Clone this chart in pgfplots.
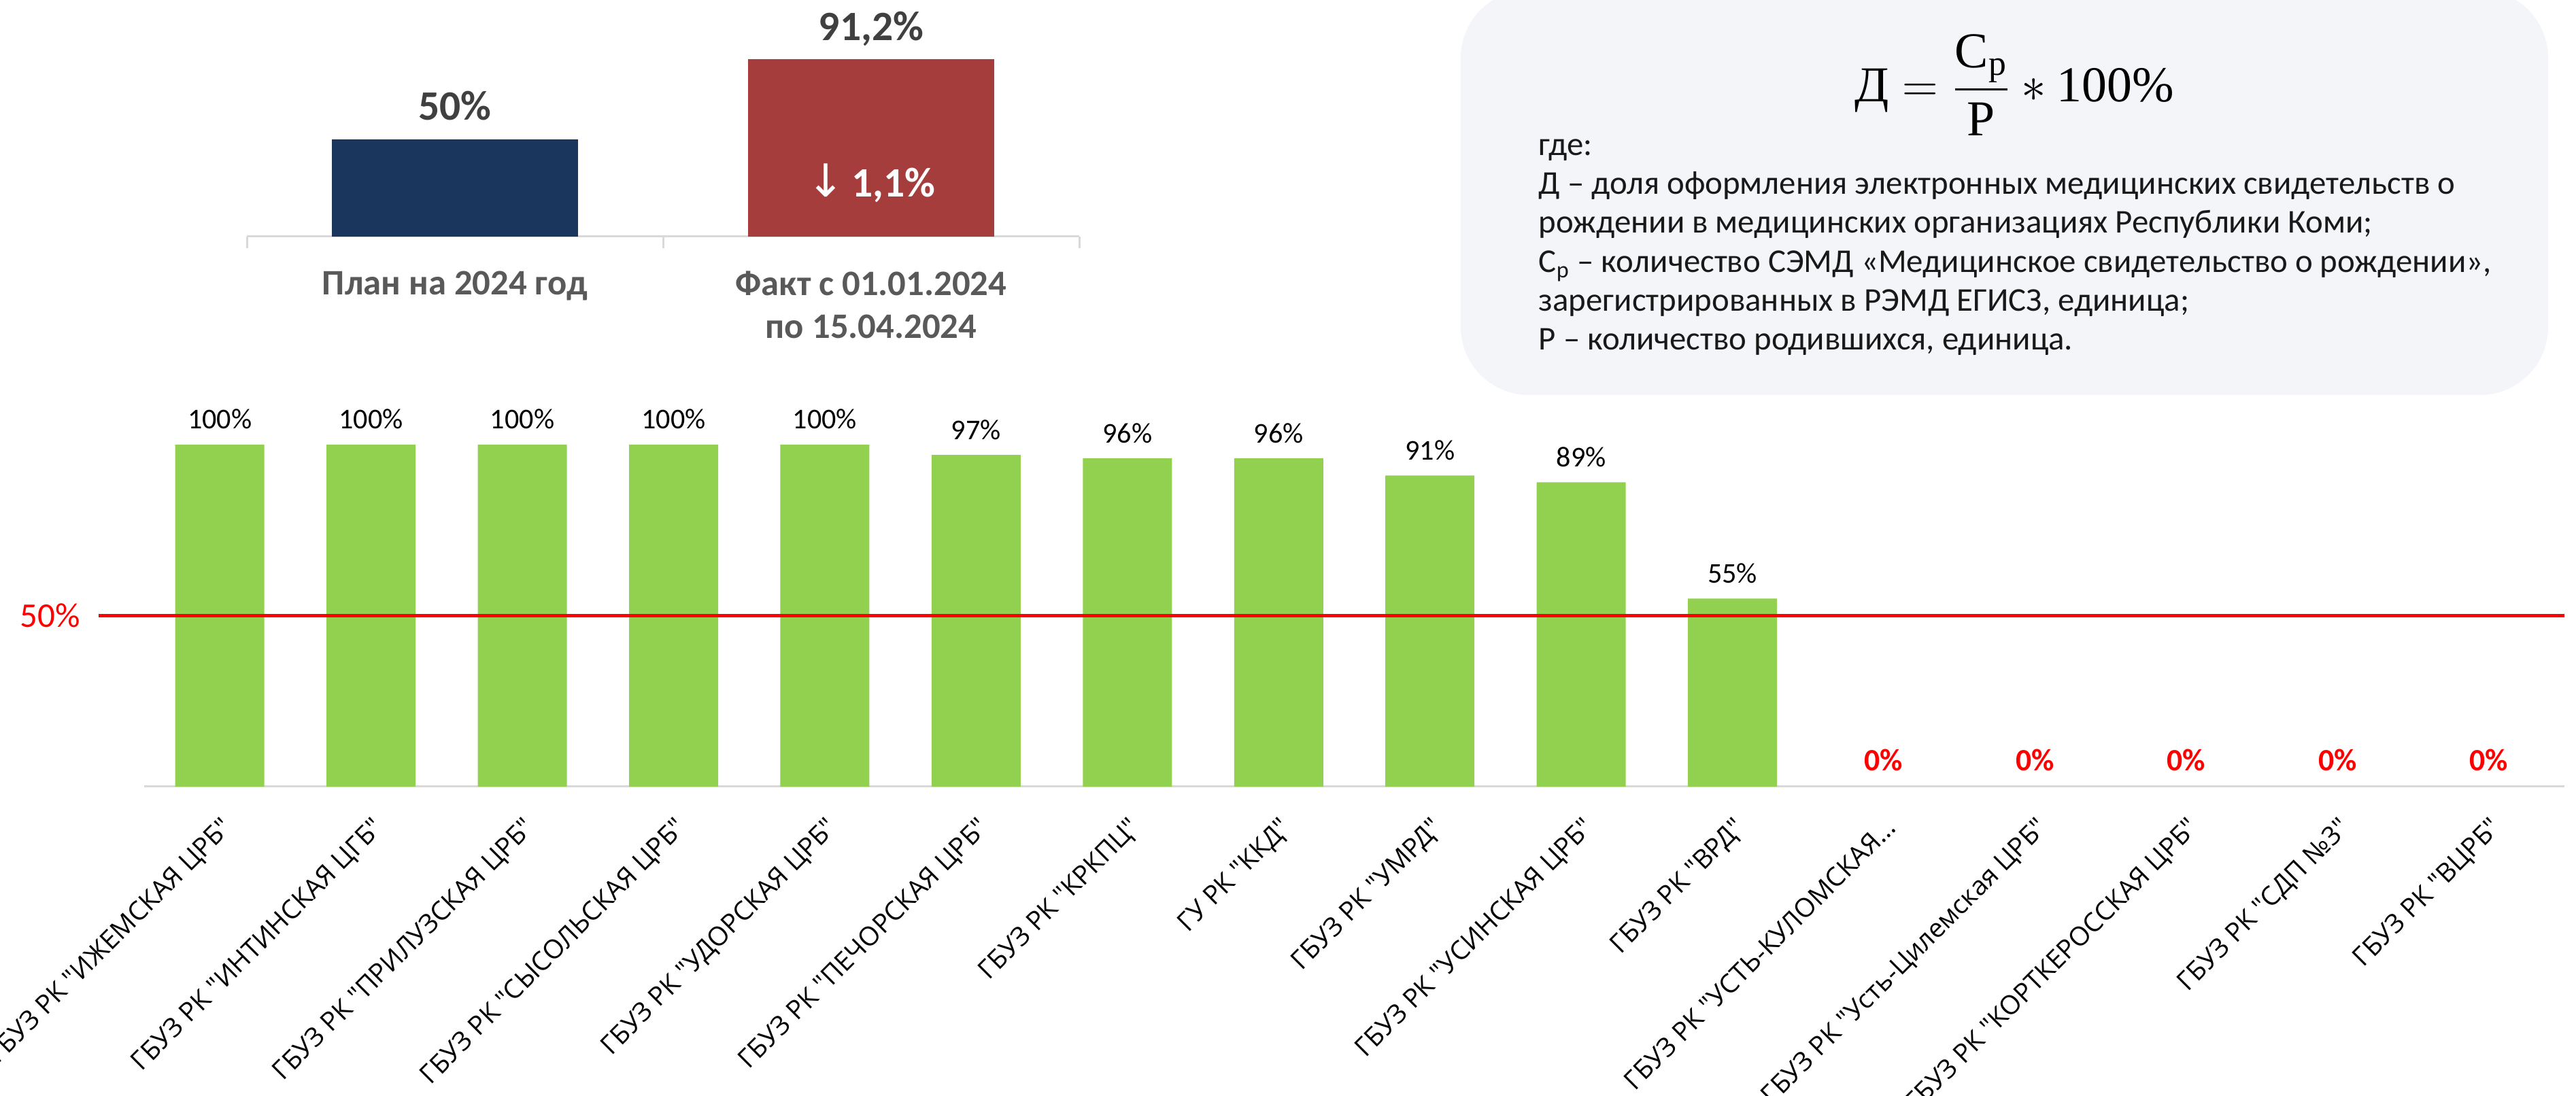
\documentclass[border=0pt]{standalone}
\usepackage{fontspec}
\setmainfont{Carlito}
\newfontfamily\labfont{Open Sans}
\newfontfamily\seriffont{Liberation Serif}
\newfontfamily\arrowfont{DejaVu Sans}
\usepackage{amsmath}
\usepackage{pgfplots}
\pgfplotsset{compat=1.18}

\definecolor{barGreen}{HTML}{92D050}
\definecolor{navy}{HTML}{1B365D}
\definecolor{brick}{HTML}{A43D3B}
\definecolor{boxfill}{HTML}{F4F5F9}
\definecolor{axgray}{HTML}{D9D9D9}
\definecolor{lblgray}{HTML}{595959}
\definecolor{valgray}{HTML}{404040}

\begin{document}
\begin{tikzpicture}
\useasboundingbox (0,0) rectangle (378.8mm,161.1mm);
\clip (0,0) rectangle (378.8mm,161.1mm);

% formula box
\fill[boxfill, rounded corners=10mm] (214.8mm,103.0mm) rectangle (374.7mm,162.6mm);
\node[anchor=center, inner sep=0pt] at (296.2mm,148.6mm)
  {\seriffont\fontsize{21}{25}\selectfont
   $\displaystyle \text{Д} = \frac{\text{С}_{\text{р}}}{\text{Р}} \ast \text{100\%}$};
\begin{scope}[every node/.style={anchor=base west, inner sep=0pt, text=black!90, font=\fontsize{13.9}{17}\selectfont}]
\node at (226.2mm,138.2mm) {где:};
\node at (226.2mm,132.5mm) {Д – доля оформления электронных медицинских свидетельств о};
\node at (226.2mm,126.8mm) {рождении в медицинских организациях Республики Коми;};
\node at (226.2mm,121.0mm) {С\textsubscript{р} – количество СЭМД «Медицинское свидетельство о рождении»,};
\node at (226.2mm,115.3mm) {зарегистрированных в РЭМД ЕГИСЗ, единица;};
\node at (226.2mm,109.6mm) {Р – количество родившихся, единица.};
\end{scope}

% plan / fact chart
\begin{axis}[
  at={(36.3mm,126.3mm)}, anchor=south west, scale only axis,
  width=122.4mm, height=28.6mm,
  xmin=-0.5, xmax=1.5, ymin=0, ymax=100,
  axis x line=bottom, axis y line=none,
  x axis line style={-, draw=axgray, line width=0.3mm},
  xtick={0,1},
  xticklabels={План на 2024 год, {Факт с 01.01.2024\\по 15.04.2024}},
  xticklabel style={font=\bfseries\fontsize{15}{17.9}\selectfont, text=lblgray,
    align=center, anchor=north, inner sep=0pt, yshift=-5mm},
  major tick length=0pt,
  extra x ticks={-0.5,0.5,1.5},
  extra x tick labels={},
  extra x tick style={major tick length=1.7mm, tick align=outside,
    tick style={draw=axgray, line width=0.3mm}},
  clip=false, ybar, bar width=36.2mm,
  nodes near coords, point meta=explicit symbolic,
  nodes near coords style={anchor=base, inner sep=0pt, yshift=2.8mm,
    font=\bfseries\fontsize{17.5}{20}\selectfont, text=valgray},
]
\addplot[bar shift=0pt, fill=navy, draw=none] coordinates {(0,50) [50\%]};
\addplot[bar shift=0pt, fill=brick, draw=none] coordinates {(1,91.2) [{91,2\%}]};
\node[anchor=base, inner sep=0pt, text=white, font=\bfseries\fontsize{17.5}{20}\selectfont]
  at (axis cs:1,20.3) {{\arrowfont\mdseries\fontsize{19}{20}\selectfont ↓}\,1,1\%};
\end{axis}

% main chart
\begin{axis}[
  at={(21.2mm,45.4mm)}, anchor=south west, scale only axis,
  width=355.9mm, height=50.3mm,
  xmin=-0.5, xmax=15.5, ymin=0, ymax=100,
  axis x line=bottom, axis y line=none,
  x axis line style={-, draw=axgray, line width=0.3mm},
  xtick={0,1,2,3,4,5,6,7,8,9,10,11,12,13,14,15},
  xticklabels={
    {ГБУЗ РК "ИЖЕМСКАЯ ЦРБ"},
    {ГБУЗ РК "ИНТИНСКАЯ ЦГБ"},
    {ГБУЗ РК "ПРИЛУЗСКАЯ ЦРБ"},
    {ГБУЗ РК "СЫСОЛЬСКАЯ ЦРБ"},
    {ГБУЗ РК "УДОРСКАЯ ЦРБ"},
    {ГБУЗ РК "ПЕЧОРСКАЯ ЦРБ"},
    {ГБУЗ РК "КРКПЦ"},
    {ГУ РК "ККД"},
    {ГБУЗ РК "УМРД"},
    {ГБУЗ РК "УСИНСКАЯ ЦРБ"},
    {ГБУЗ РК "ВРД"},
    {ГБУЗ РК "УСТЬ-КУЛОМСКАЯ…},
    {ГБУЗ РК "Усть-Цилемская ЦРБ"},
    {ГБУЗ РК "КОРТКЕРОССКАЯ ЦРБ"},
    {ГБУЗ РК "СДП №3"},
    {ГБУЗ РК "ВЦРБ"}},
  xticklabel style={font=\labfont\fontsize{11}{13}\selectfont, yshift=-4.2mm,
    rotate=45, anchor=north east, inner sep=0pt},
  major tick length=0pt,
  clip=false, ybar, bar width=13.1mm,
]
\addplot[bar shift=0pt, fill=barGreen, draw=none,
  nodes near coords, point meta=explicit symbolic,
  nodes near coords style={anchor=base, inner sep=0pt, yshift=2.3mm,
    font=\fontsize{12}{14}\selectfont, text=black}]
  coordinates {
    (0,100) [100\%]
    (1,100) [100\%]
    (2,100) [100\%]
    (3,100) [100\%]
    (4,100) [100\%]
    (5,97) [97\%]
    (6,96) [96\%]
    (7,96) [96\%]
    (8,91) [91\%]
    (9,89) [89\%]
    (10,55) [55\%]
  };
\addplot[bar shift=0pt, draw=none, fill=none,
  nodes near coords, point meta=explicit symbolic,
  nodes near coords style={anchor=base, inner sep=0pt, yshift=2.3mm,
    font=\bfseries\fontsize{13}{15}\selectfont, text=red}]
  coordinates {
    (11,0) [0\%]
    (12,0) [0\%]
    (13,0) [0\%]
    (14,0) [0\%]
    (15,0) [0\%]
  };
\addplot[sharp plot, red, line width=0.5mm, mark=none] coordinates {(-0.8,50) (15.5,50)};
\node[anchor=east, inner sep=0pt, xshift=-2.7mm, text=red, font=\fontsize{14.5}{16}\selectfont]
  at (axis cs:-0.8,50) {50\%};
\end{axis}
\end{tikzpicture}
\end{document}
